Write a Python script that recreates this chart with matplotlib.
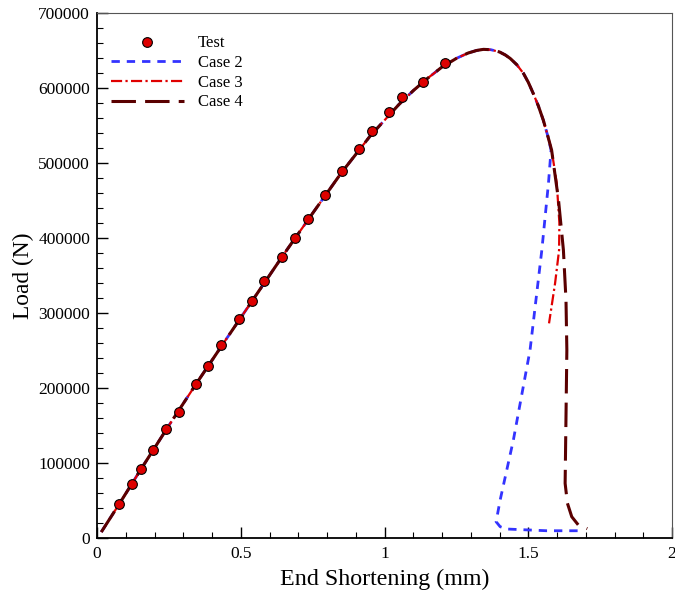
import numpy as np
import matplotlib.pyplot as plt
from matplotlib.ticker import MultipleLocator

# test data (end shortening in mm, load in N)
test_x = [0.077, 0.122, 0.152, 0.196, 0.240, 0.285, 0.344, 0.386, 0.431, 0.495, 0.540,
          0.582, 0.642, 0.689, 0.733, 0.793, 0.852, 0.911, 0.957, 1.017, 1.061, 1.135, 1.210]
test_y = [45300, 71600, 91600, 117700, 144900, 168400, 204900, 229000, 257000, 291600, 316300,
          343000, 375000, 399500, 424800, 457600, 489600, 519000, 542100, 568300, 588300, 607500, 633600]

# common pre-peak/peak branch of the FE curves
base_x = [0.015, 0.08, 0.15, 0.25, 0.35, 0.45, 0.55, 0.65, 0.75, 0.85, 0.95, 1.05,
          1.10, 1.15, 1.20, 1.25, 1.29, 1.32, 1.344, 1.37, 1.40, 1.42, 1.437, 1.46,
          1.483, 1.50, 1.517, 1.535, 1.552, 1.567]
base_y = [8000, 47000, 90000, 150000, 208500, 265500, 322000, 378500, 433000, 487000, 536000, 578000,
          596500, 613000, 628000, 639500, 646500, 650000, 651500, 651000, 648000, 644000, 639400, 631000,
          619500, 607500, 592800, 576000, 557200, 537000]

# post-buckling branches
case2_x = [1.579, 1.570, 1.547, 1.506, 1.448, 1.402, 1.388, 1.402, 1.425, 1.564, 1.680]
case2_y = [517200, 472800, 384000, 250600, 130600, 50600, 21700, 15100, 12000, 9700, 9700]

case3_x = [1.581, 1.599, 1.608, 1.607, 1.593, 1.572]
case3_y = [517200, 472800, 420000, 384000, 339500, 286200]

case4_x = [1.581, 1.605, 1.622, 1.631, 1.634, 1.631, 1.628, 1.636, 1.651, 1.674, 1.705]
case4_y = [517200, 450600, 384000, 317200, 250600, 161700, 72900, 46300, 28400, 17300, 12500]

plt.rcParams['font.family'] = ['Liberation Serif', 'DejaVu Serif']

fig = plt.figure(figsize=(6.75, 5.98), dpi=100)
ax = fig.add_axes([0.1437, 0.1003, 0.852, 0.878])

ax.plot(test_x, test_y, 'o', color='#dd0000', mec='black', mew=0.8, ms=7, label='Test', zorder=5)
ax.plot(base_x + case2_x, base_y + case2_y, color='#3333ff', lw=2, ls=(0, (3, 2.5)), label='Case 2')
ax.plot(base_x + case3_x, base_y + case3_y, color='#e00000', lw=1.6, ls=(0, (5, 1.5, 1, 1.5)), label='Case 3')
ax.plot(base_x + case4_x, base_y + case4_y, color='#5a0000', lw=2.2, ls=(0, (8, 3)), label='Case 4')

ax.set_xlim(0, 2)
ax.set_ylim(0, 700000)
ax.xaxis.set_minor_locator(MultipleLocator(0.1))
ax.yaxis.set_minor_locator(MultipleLocator(20000))
ax.set_xticks([0, 0.5, 1, 1.5, 2])
ax.set_xticklabels(['0', '0.5', '1', '1.5', '2'])
ax.set_yticks(np.arange(0, 700001, 100000))
ax.set_yticklabels([str(v) for v in range(0, 700001, 100000)])
ax.tick_params(which='both', direction='in', top=False, right=False, labelsize=12.5)
ax.tick_params(which='major', length=8, width=1)
ax.tick_params(which='minor', length=4, width=0.8)
ax.tick_params(axis='x', pad=6)
ax.tick_params(axis='y', pad=5)

for s in ['left', 'bottom']:
    ax.spines[s].set_linewidth(1.3)
for s in ['top', 'right']:
    ax.spines[s].set_linewidth(0.8)
    ax.spines[s].set_color('#555555')

ax.set_xlabel('End Shortening (mm)', fontsize=17.3, labelpad=5)
ax.set_ylabel('Load (N)', fontsize=16.8, labelpad=3)

ax.legend(loc='upper left', frameon=False, fontsize=12, handlelength=4.4,
          handletextpad=0.85, labelspacing=0.22, borderaxespad=0.0,
          bbox_to_anchor=(0.012, 0.97))

plt.savefig('out.png', dpi=100)
